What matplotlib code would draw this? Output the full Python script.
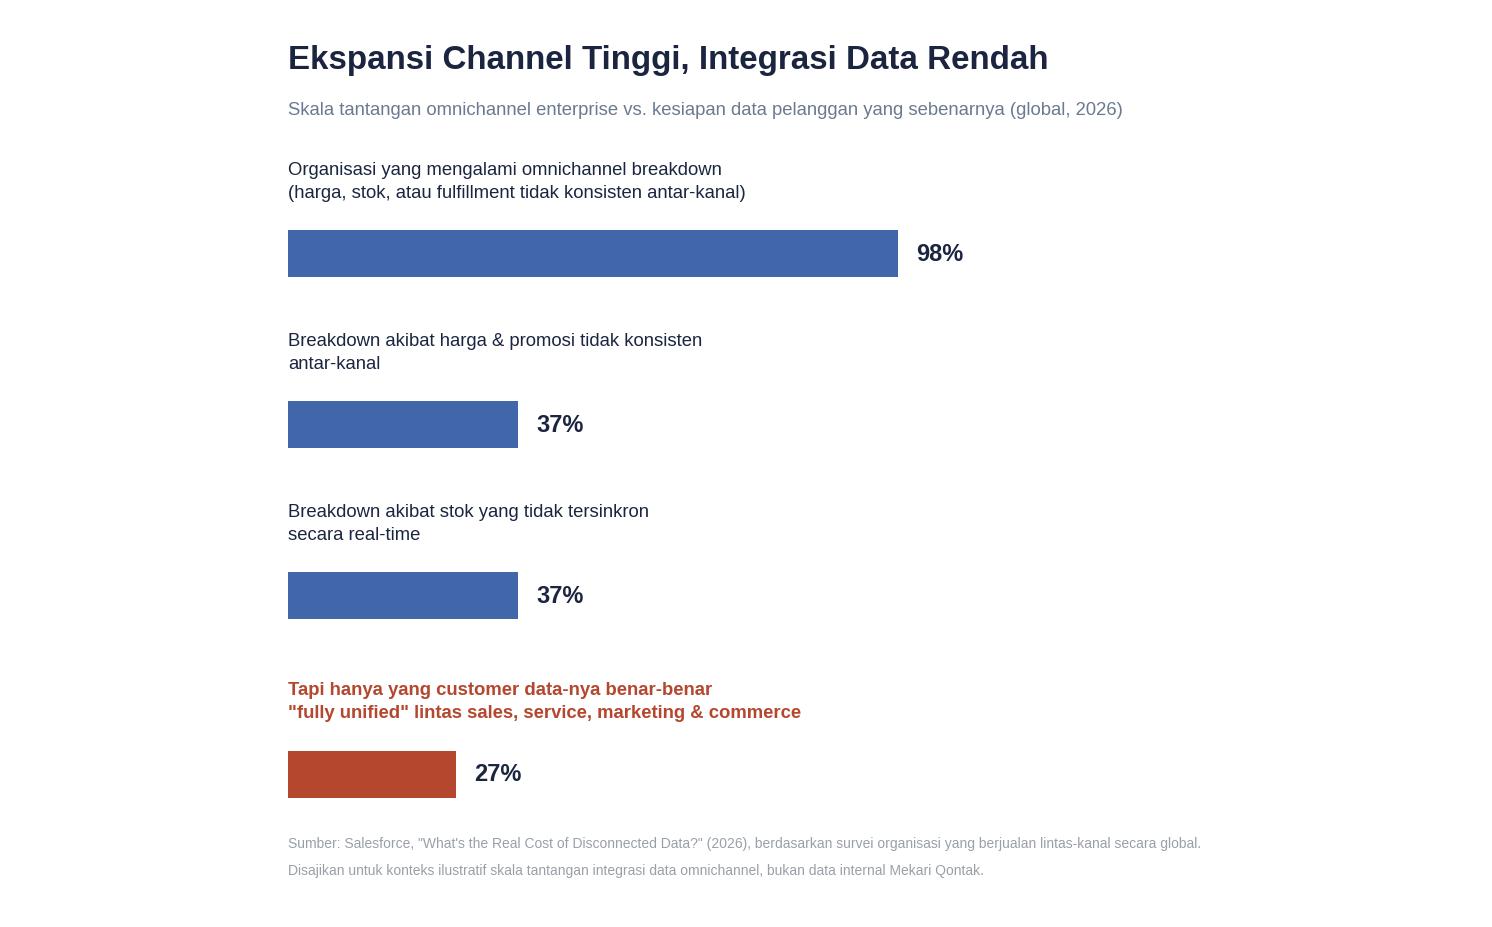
import matplotlib
matplotlib.use("Agg")
import matplotlib.pyplot as plt

plt.rcParams['font.family'] = ['Liberation Sans', 'DejaVu Sans']

# data
labels = [
    "Organisasi yang mengalami omnichannel breakdown\n(harga, stok, atau fulfillment tidak konsisten antar-kanal)",
    "Breakdown akibat harga & promosi tidak konsisten\nantar-kanal",
    "Breakdown akibat stok yang tidak tersinkron\nsecara real-time",
    "Tapi hanya yang customer data-nya benar-benar\n\"fully unified\" lintas sales, service, marketing & commerce",
]
values = [98, 37, 37, 27]
highlight = [False, False, False, True]

title = "Ekspansi Channel Tinggi, Integrasi Data Rendah"
subtitle = "Skala tantangan omnichannel enterprise vs. kesiapan data pelanggan yang sebenarnya (global, 2026)"
notes = [
    "Sumber: Salesforce, \"What's the Real Cost of Disconnected Data?\" (2026), berdasarkan survei organisasi yang berjualan lintas-kanal secara global.",
    "Disajikan untuk konteks ilustratif skala tantangan integrasi data omnichannel, bukan data internal Mekari Qontak.",
]

# layout (pixels)
W, H = 1492, 928
left = 288
px_per_pct = 610 / 98
bar_y = [254.5, 425.5, 596.5, 775]
bar_h = 47
label_gap = 84   # first label line center above bar center
line_h = 23

blue = "#4166a9"
red = "#b4472e"
dark = "#1b2540"

fig = plt.figure(figsize=(W / 100, H / 100), dpi=100)
fig.patch.set_facecolor("white")
ax = fig.add_axes([left / W, 0, 100 * px_per_pct / W, 1])
ax.set_xlim(0, 100)
ax.set_ylim(H, 0)
ax.axis("off")

colors = [red if h else blue for h in highlight]
ax.barh(bar_y, values, height=bar_h, color=colors, align="center")

for y, v, lab, h in zip(bar_y, values, labels, highlight):
    ax.text(v + 18 / px_per_pct, y, f"{v}%", fontsize=17, fontweight="bold",
            color=dark, va="center", ha="left")
    for i, line in enumerate(lab.split("\n")):
        ax.text(0, y - label_gap + i * line_h, line, fontsize=13.35,
                color=red if h else dark, fontweight="bold" if h else "normal",
                va="center", ha="left")

fig.text(left / W, 1 - 61 / H, title, fontsize=23.85, fontweight="bold",
         color=dark, va="center", ha="left")
fig.text(left / W, 1 - 110.5 / H, subtitle, fontsize=13.34, color="#6b7a90",
         va="center", ha="left")
for i, n in enumerate(notes):
    fig.text(left / W, 1 - (844 + i * 27) / H, n, fontsize=10.0, color="#9aa0a8",
             va="center", ha="left")

fig.savefig("out.png", dpi=100)
